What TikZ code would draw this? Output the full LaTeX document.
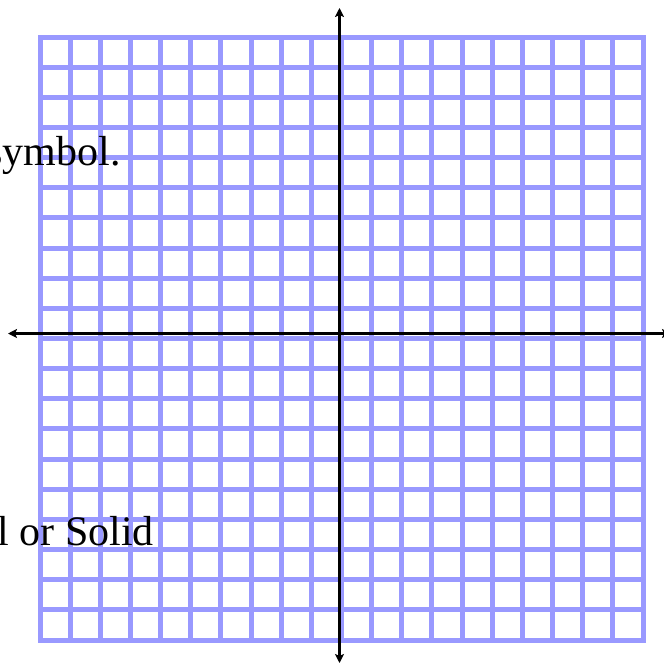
\documentclass[tikz,border=0pt]{standalone}
\usepackage{fontspec}
\setmainfont{Liberation Serif}
\usetikzlibrary{arrows.meta}
\begin{document}
\begin{tikzpicture}[x=1pt,y=-1pt,
  gridline/.style={line width=5pt, line cap=rect, draw={rgb,255:red,153;green,153;blue,255}},
  axis/.style={line width=3pt, {Stealth[length=9pt,width=9pt,inset=2pt]}-{Stealth[length=9pt,width=9pt,inset=2pt]}, black},
  lbl/.style={font=\fontsize{42}{48}\selectfont, inner sep=0pt, anchor=base east}]
\useasboundingbox (0,0) rectangle (664,664);
\clip (0,0) rectangle (664,664);
\foreach \k in {0,...,20} {
  \draw[gridline] ({40+30.15*\k},37) -- ({40+30.15*\k},640);
  \draw[gridline] (40,{37+30.15*\k}) -- (643,{37+30.15*\k});
}
\coordinate (ytop) at (339.5,8);
\coordinate (ybot) at (339.5,663);
\coordinate (xleft) at (8,333.5);
\coordinate (xright) at (671,333.5);
\draw[axis] (ybot) -- (ytop);
\draw[axis] (xleft) -- (xright);
\node[lbl] (t1) at (121,165) {symbol.};
\node[lbl] (t2) at (154,545) {l or Solid};
\end{tikzpicture}
\end{document}
